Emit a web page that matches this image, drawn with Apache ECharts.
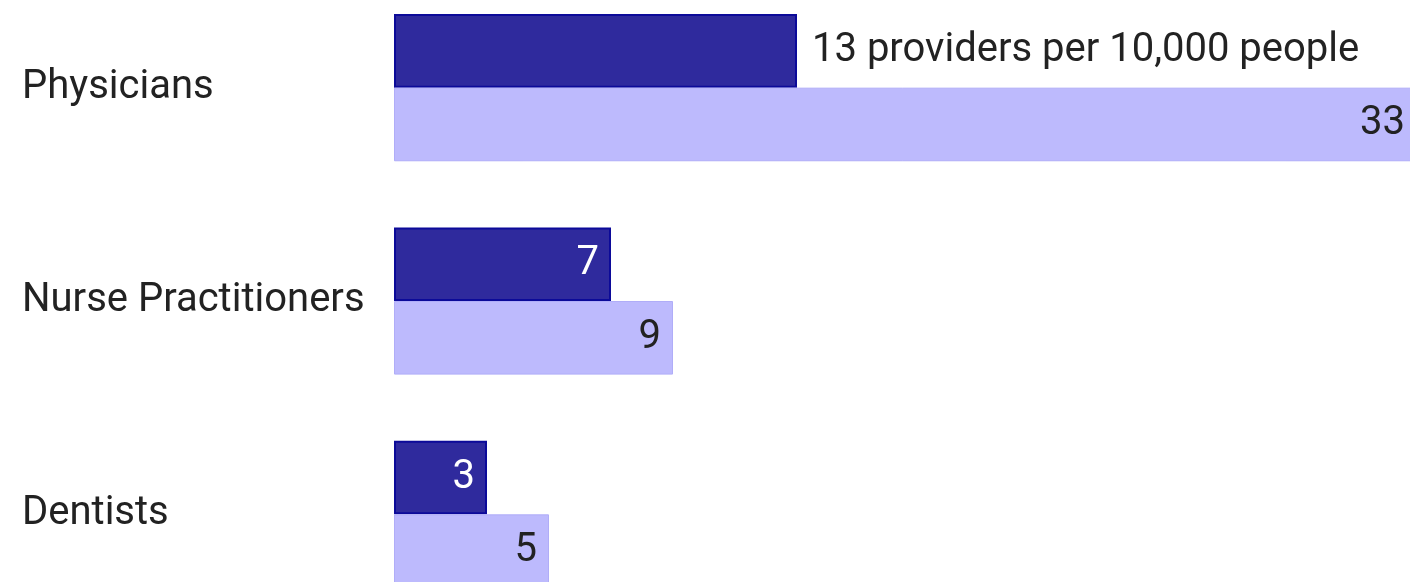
<!DOCTYPE html>
<html>
<head>
<meta charset="utf-8">
<script src="https://cdn.jsdelivr.net/npm/echarts@6/dist/echarts.min.js"></script>
<style>
  html, body { margin: 0; padding: 0; background: #fff; }
  #chart { width: 1410px; height: 582px; }
</style>
</head>
<body>
<div id="chart"></div>
<script>
// providers per 10,000 people
var categories = ['Physicians', 'Nurse Practitioners', 'Dentists'];
var darkValues = [13, 7, 3];
var lightValues = [33, 9, 5];
var firstLabelText = ' providers per 10,000 people';

var chart = echarts.init(document.getElementById('chart'));

// first dark bar gets the long label outside, the rest sit inside
var darkData = darkValues.map(function (v, i) {
  if (i === 0) {
    return {
      value: v,
      label: { position: 'right', distance: 15, color: '#222', formatter: '{c}' + firstLabelText }
    };
  }
  return v;
});

var option = {
  animation: false,
  grid: { left: 394, width: 1023, top: -19, height: 640, outerBoundsMode: 'none' },
  xAxis: {
    type: 'value',
    min: 0,
    max: 33,
    show: false
  },
  yAxis: {
    type: 'category',
    data: categories,
    inverse: true,
    axisLine: { show: false },
    axisTick: { show: false },
    axisLabel: {
      align: 'left',
      margin: 372,
      color: '#222',
      fontSize: 40,
      fontFamily: 'Roboto',
      padding: [6, 0, 0, 0]
    }
  },
  series: [
    {
      type: 'bar',
      data: darkData,
      barGap: '0%',
      barCategoryGap: '31%',
      itemStyle: { color: '#2f2a9d', borderColor: '#0c0a99', borderWidth: 2 },
      label: {
        show: true,
        position: 'insideRight',
        distance: 12,
        color: '#fff',
        fontSize: 40,
        fontFamily: 'Roboto',
        padding: [4, 0, 0, 0]
      }
    },
    {
      type: 'bar',
      data: lightValues,
      itemStyle: { color: '#bdbafd', borderColor: '#b0adf8', borderWidth: 1 },
      label: {
        show: true,
        position: 'insideRight',
        distance: 12,
        color: '#222',
        fontSize: 40,
        fontFamily: 'Roboto',
        padding: [4, 0, 0, 0]
      }
    }
  ]
};

chart.setOption(option);
</script>
</body>
</html>
